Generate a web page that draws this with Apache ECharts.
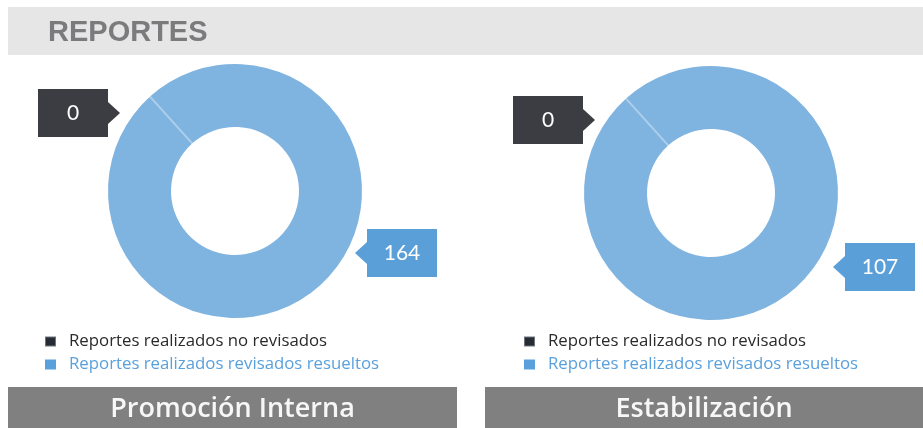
<!DOCTYPE html>
<html>
<head>
<meta charset="utf-8">
<script src="https://cdn.jsdelivr.net/npm/echarts@6/dist/echarts.min.js"></script>
<style>
html,body{margin:0;padding:0;background:#fff;}
#main{width:923px;height:428px;}
</style>
</head>
<body>
<div id="main"></div>
<script>
var headerTitle = 'REPORTES';
var chartTitles = ['Promoción Interna', 'Estabilización'];
var categories = ['Reportes realizados no revisados', 'Reportes realizados revisados resueltos'];
var noRevisados = [0, 0];
var revisadosResueltos = [164, 107];

var centers = [[235, 191], [711, 193]];
// label arrow tip offsets from the pie center: [zero slice, value slice]
var labelOffsets = [
  [[-115, -78], [120, 62]],
  [[-116, -73], [122, 74]]
];

var darkBox = '#3c3d42';
var blueBox = '#5a9fd8';
var ringColor = '#80b4e0';

// little triangle used as the callout pointer
function makeArrow(color, dir) {
  var c = document.createElement('canvas');
  c.width = 12; c.height = 48;
  var ctx = c.getContext('2d');
  ctx.fillStyle = color;
  ctx.beginPath();
  if (dir == 'right') {
    ctx.moveTo(0, 13); ctx.lineTo(12, 24); ctx.lineTo(0, 35);
  } else {
    ctx.moveTo(12, 13); ctx.lineTo(0, 24); ctx.lineTo(12, 35);
  }
  ctx.closePath();
  ctx.fill();
  return c;
}
var arrowDark = makeArrow(darkBox, 'right');
var arrowBlue = makeArrow(blueBox, 'left');

var chart = echarts.init(document.getElementById('main'));

var series = [];
var legends = [];
var graphics = [
  { type: 'rect', shape: { x: 8, y: 7, width: 915, height: 48 }, style: { fill: '#e6e6e6' }, silent: true },
  { type: 'text', x: 48, y: 33, style: { text: headerTitle, fill: '#7b7b7d', font: 'bold 29px "Liberation Sans"', verticalAlign: 'middle' }, silent: true }
];

var barX = [[8, 449], [485, 438]];

for (var i = 0; i < 2; i++) {
  series.push({
    type: 'pie',
    name: chartTitles[i],
    center: centers[i],
    radius: [64, 127],
    startAngle: 132,
    avoidLabelOverlap: false,
    emphasis: { disabled: true },
    labelLine: { show: false },
    label: {
      show: true,
      position: 'outside',
      formatter: function (p) {
        if (p.dataIndex == 1) return '{dbox|' + p.value + '}{darr| }';
        return '{barr| }{bbox|' + p.value + '}';
      },
      rich: {
        dbox: { width: 70, height: 48, lineHeight: 48, align: 'center', backgroundColor: darkBox, color: '#fff', fontFamily: 'Lato', fontSize: 21 },
        darr: { width: 12, height: 48, lineHeight: 48, backgroundColor: { image: arrowDark } },
        bbox: { width: 70, height: 48, lineHeight: 48, align: 'center', backgroundColor: blueBox, color: '#fff', fontFamily: 'Lato', fontSize: 21 },
        barr: { width: 12, height: 48, lineHeight: 48, backgroundColor: { image: arrowBlue } }
      }
    },
    labelLayout: (function (idx) {
      return function (params) {
        var off = params.dataIndex == 1 ? labelOffsets[idx][0] : labelOffsets[idx][1];
        return {
          x: centers[idx][0] + off[0],
          y: centers[idx][1] + off[1],
          align: params.dataIndex == 1 ? 'right' : 'left',
          verticalAlign: 'middle'
        };
      };
    })(i),
    data: [
      { name: categories[1], value: revisadosResueltos[i], itemStyle: { color: ringColor } },
      { name: categories[0], value: noRevisados[i], itemStyle: { color: '#262b35', borderColor: 'rgba(255,255,255,0.35)', borderWidth: 2 } }
    ]
  });

  legends.push({
    orient: 'vertical',
    left: i == 0 ? 44 : 523,
    top: 333,
    padding: 0,
    selectedMode: false,
    icon: 'rect',
    itemWidth: 11,
    itemHeight: 10,
    itemGap: 6,
    textStyle: { fontFamily: 'Open Sans', fontSize: 16.8, lineHeight: 16, padding: [0, 0, 0, 8] },
    data: [
      { name: categories[0], itemStyle: { color: '#262b35' }, textStyle: { color: '#2a2a2a' } },
      { name: categories[1], itemStyle: { color: '#5aa0dc' }, textStyle: { color: '#5aa0dc' } }
    ]
  });

  graphics.push({ type: 'rect', shape: { x: barX[i][0], y: 387, width: barX[i][1], height: 41 }, style: { fill: '#808080' }, silent: true });
  graphics.push({
    type: 'text', x: barX[i][0] + barX[i][1] / 2, y: 409,
    style: { text: chartTitles[i], fill: '#f7f7f7', font: '600 27px "Open Sans"', align: 'center', verticalAlign: 'middle' },
    silent: true
  });
}

chart.setOption({
  animation: false,
  legend: legends,
  graphic: graphics,
  series: series
});
</script>
</body>
</html>
